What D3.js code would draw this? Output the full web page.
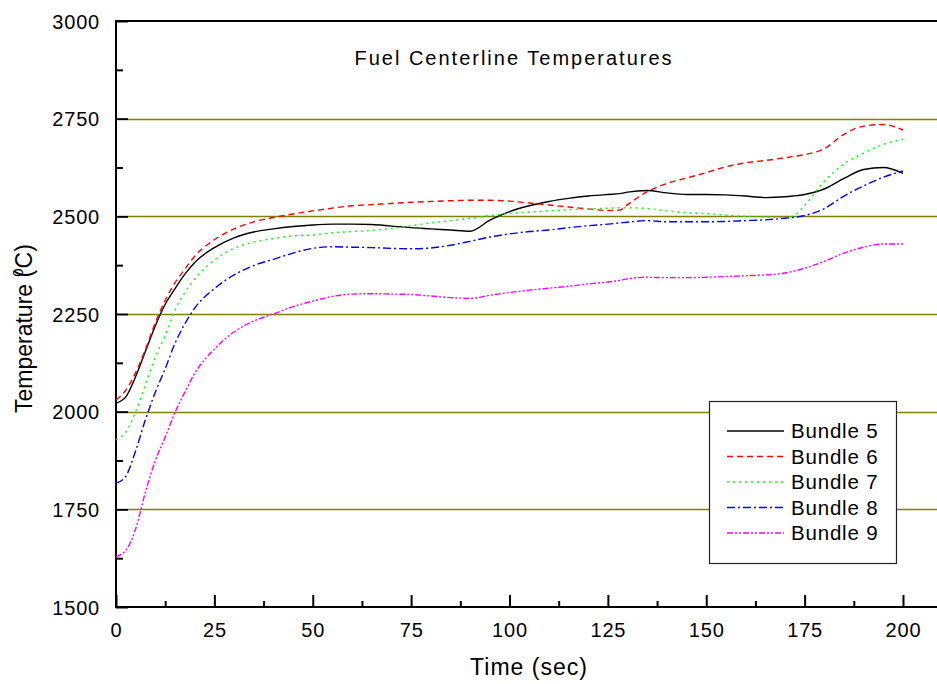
<!DOCTYPE html>
<html>
<head>
<meta charset="utf-8">
<script src="https://cdn.jsdelivr.net/npm/d3@7"></script>
<style>
  body { margin: 0; background: #fff; }
  text { font-family: "Liberation Sans", Arial, sans-serif; fill: #000; }
</style>
</head>
<body>
<svg id="chart" width="937" height="684"></svg>
<script>
// ---- data ----
const time = [0, 2.5, 5, 7.5, 10, 12.5, 15, 17.5, 20, 25, 30, 35, 40, 45, 50, 55, 60, 65, 70, 75,
  80, 85, 90, 95, 100, 105, 110, 115, 120, 125, 128, 130, 135, 140, 145, 150, 155, 160, 165, 170,
  172, 175, 180, 185, 190, 195, 200];

const bundle5 = [2022, 2038, 2090, 2155, 2220, 2275, 2315, 2352, 2382, 2420, 2445, 2460, 2468, 2474, 2478, 2480, 2480, 2479, 2475, 2471,
  2468, 2465, 2462, 2490, 2512, 2527, 2538, 2546, 2552, 2556, 2558, 2562, 2566, 2560, 2556, 2556, 2555, 2552, 2548, 2550,
  2552, 2556, 2570, 2597, 2620, 2625, 2610];
const bundle6 = [2030, 2055, 2100, 2160, 2228, 2285, 2330, 2365, 2398, 2440, 2468, 2486, 2497, 2506, 2514, 2521, 2527, 2530, 2533, 2536,
  2538, 2540, 2541, 2541, 2539, 2534, 2529, 2524, 2519, 2515, 2516, 2530, 2563, 2584, 2598, 2612, 2627, 2637, 2643, 2650,
  2653, 2658, 2673, 2710, 2731, 2735, 2721];
const bundle7 = [1928, 1948, 2000, 2070, 2140, 2195, 2260, 2305, 2340, 2388, 2418, 2434, 2443, 2450, 2452, 2458, 2461, 2464, 2469, 2476,
  2483, 2489, 2495, 2502, 2507, 2511, 2514, 2517, 2519, 2521, 2522, 2522, 2520, 2514, 2509, 2507, 2503, 2500, 2498, 2497,
  2500, 2528, 2590, 2634, 2662, 2684, 2697];
const bundle8 = [1817, 1835, 1900, 1980, 2050, 2110, 2175, 2225, 2265, 2315, 2350, 2374, 2390, 2406, 2418, 2422, 2421, 2420, 2418, 2417,
  2419, 2426, 2436, 2447, 2455, 2461, 2465, 2471, 2476, 2480, 2483, 2485, 2489, 2486, 2486, 2486, 2487, 2489, 2491, 2495,
  2497, 2502, 2520, 2552, 2578, 2600, 2616];
const bundle9 = [1629, 1645, 1700, 1795, 1875, 1935, 1998, 2050, 2098, 2160, 2204, 2232, 2250, 2269, 2283, 2295, 2301, 2302, 2301, 2300,
  2296, 2292, 2290, 2298, 2305, 2311, 2316, 2321, 2327, 2332, 2336, 2340, 2344, 2343, 2343, 2344, 2346, 2348, 2350, 2355,
  2359, 2367, 2385, 2406, 2421, 2429, 2429];

const seriesNames = ['Bundle 5', 'Bundle 6', 'Bundle 7', 'Bundle 8', 'Bundle 9'];
const seriesValues = [bundle5, bundle6, bundle7, bundle8, bundle9];
const seriesColors = ['#000000', '#ff0000', '#00ff00', '#0000ff', '#ff00ff'];
const seriesDash = [null, '6,4', '2,4', '8,3,2,3', '6,2,2,2,2,2'];

const xTicks = [0, 25, 50, 75, 100, 125, 150, 175, 200];
const yTicks = [1500, 1750, 2000, 2250, 2500, 2750, 3000];
const gridValues = [1750, 2000, 2250, 2500, 2750];

// ---- layout ----
const plotL = 116, plotR = 937, plotT = 21, plotB = 607;

const svg = d3.select('#chart');
const x = d3.scaleLinear().domain([0, 200]).range([plotL, 903]);
const y = d3.scaleLinear().domain([1500, 3000]).range([plotB, plotT]);

// grid lines
svg.append('g').selectAll('line')
  .data(gridValues)
  .enter().append('line')
  .attr('x1', plotL + 12).attr('x2', plotR)
  .attr('y1', d => Math.round(y(d)) + 0.5).attr('y2', d => Math.round(y(d)) + 0.5)
  .attr('stroke', '#808000').attr('stroke-width', 1.3);

// top border
svg.append('line')
  .attr('x1', plotL).attr('x2', plotR)
  .attr('y1', plotT).attr('y2', plotT)
  .attr('stroke', '#000').attr('stroke-width', 2);

// y axis: major + minor ticks pointing inward
const yAxis = svg.append('g').attr('transform', `translate(${plotL},0)`)
  .call(d3.axisLeft(y).tickValues(yTicks).tickSize(-12).tickPadding(16).tickFormat(d3.format('d')));
const yMinor = svg.append('g').attr('transform', `translate(${plotL},0)`)
  .call(d3.axisLeft(y).tickValues(d3.range(1625, 3000, 250)).tickSize(-7).tickFormat(''));

// x axis
const xAxis = svg.append('g').attr('transform', `translate(0,${plotB})`)
  .call(d3.axisBottom(x).tickValues(xTicks).tickSize(-12).tickPadding(16).tickFormat(d3.format('d')));
const xMinor = svg.append('g').attr('transform', `translate(0,${plotB})`)
  .call(d3.axisBottom(x).tickValues(d3.range(12.5, 200, 25)).tickSize(-6).tickFormat(''));

[yAxis, yMinor, xAxis, xMinor].forEach(g => {
  g.select('.domain').remove();
  g.selectAll('line').attr('stroke', '#000').attr('stroke-width', 2);
  g.selectAll('text')
    .style('font-size', '20px')
    .style('letter-spacing', '0.8px')
    .style('font-family', '"Liberation Sans", Arial, sans-serif');
});
yAxis.selectAll('text').attr('dy', '0.36em');
xAxis.selectAll('text').attr('dy', '0.72em');

// axis spines
svg.append('line').attr('x1', plotL).attr('x2', plotL).attr('y1', plotT - 1).attr('y2', plotB + 1)
  .attr('stroke', '#000').attr('stroke-width', 2);
svg.append('line').attr('x1', plotL - 1).attr('x2', plotR).attr('y1', plotB).attr('y2', plotB)
  .attr('stroke', '#000').attr('stroke-width', 2);

// series
const line = d3.line()
  .x((d, i) => x(time[i]))
  .y(d => y(d))
  .curve(d3.curveMonotoneX);

svg.append('g').selectAll('path')
  .data(seriesValues)
  .enter().append('path')
  .attr('d', d => line(d))
  .attr('fill', 'none')
  .attr('stroke', (d, i) => seriesColors[i])
  .attr('stroke-width', 1.4)
  .attr('stroke-dasharray', (d, i) => seriesDash[i]);

// title + axis labels
svg.append('text')
  .attr('x', 514).attr('y', 65)
  .attr('text-anchor', 'middle')
  .style('font-size', '20px')
  .style('letter-spacing', '2px')
  .text('Fuel Centerline Temperatures');

svg.append('text')
  .attr('x', 529).attr('y', 675)
  .attr('text-anchor', 'middle')
  .style('font-size', '23px')
  .style('letter-spacing', '1px')
  .text('Time (sec)');

const yLabel = svg.append('text')
  .attr('transform', 'translate(32,413) rotate(-90)')
  .attr('text-anchor', 'start')
  .style('font-size', '23px');
yLabel.append('tspan').text('Temperature (');
yLabel.append('tspan').attr('dx', -7).attr('dy', -9).style('font-size', '15px').text('0');
yLabel.append('tspan').attr('dy', 9).text('C)');

// legend
const legend = svg.append('g');
legend.append('rect')
  .attr('x', 709.5).attr('y', 401.5).attr('width', 187).attr('height', 162)
  .attr('fill', '#fff').attr('stroke', '#222').attr('stroke-width', 1.2);

const rows = legend.selectAll('.row')
  .data(seriesNames)
  .enter().append('g')
  .attr('class', 'row')
  .attr('transform', (d, i) => `translate(0,${431 + i * 25.5})`);

rows.append('line')
  .attr('x1', 727).attr('x2', 784)
  .attr('stroke', (d, i) => seriesColors[i])
  .attr('stroke-width', 1.4)
  .attr('stroke-dasharray', (d, i) => seriesDash[i]);

rows.append('text')
  .attr('x', 791).attr('dy', '0.36em')
  .style('font-size', '20.5px')
  .style('letter-spacing', '0.8px')
  .text(d => d);
</script>
</body>
</html>
